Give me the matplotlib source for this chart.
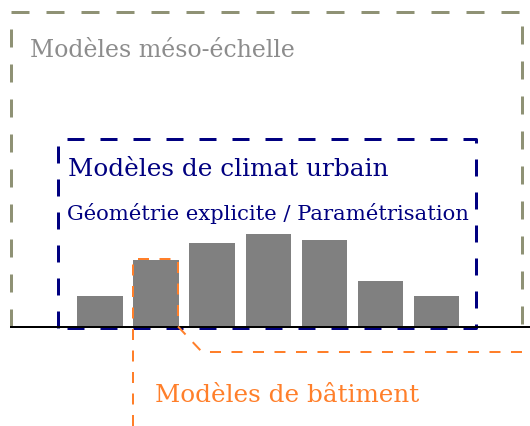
import numpy as np
import matplotlib
matplotlib.use('Agg')
import matplotlib.pyplot as plt

# chart data (bar heights above the ground line, in pixels)
categories = ['1', '2', '3', '4', '5', '6', '7']
heights = [31, 67, 84, 93, 87, 46, 31]

title_meso = 'Modèles méso-échelle'
title_urban = 'Modèles de climat urbain'
subtitle_urban = 'Géométrie explicite / Paramétrisation'
title_building = 'Modèles de bâtiment'

W, H = 530, 427
olive = '#8f9275'
navy = '#000080'
orange = '#ff7f2a'
grey = '#808080'

plt.rcParams['font.family'] = ['DejaVu Serif']
plt.rcParams['lines.scale_dashes'] = False

fig = plt.figure(figsize=(W / 100, H / 100), dpi=100)
ax = fig.add_axes([0, 0, 1, 1])
ax.set_xlim(0, W)
ax.set_ylim(0, H)
ax.axis('off')

px = 0.72  # one pixel in points
ground = H - 327.5

# meso-scale box (open at the bottom)
ax.plot([11, 11, 522, 522], [ground, H - 13, H - 13, ground], color=olive,
        lw=3 * px, dashes=(18 * px, 17 * px), solid_capstyle='butt')

# urban climate box
ax.plot([58, 58, 476, 476, 58], [H - 329, H - 140, H - 140, H - 329, H - 329],
        color=navy, lw=3 * px, dashes=(17 * px, 16 * px), zorder=2)

# bars
x = 100 + 56.1 * np.arange(len(categories))
ax.bar(x, heights, width=45.5, bottom=ground, color=grey, zorder=3)

# ground line
ax.plot([11, W], [ground, ground], color='black', lw=2 * px, zorder=4)

# building model outline
bx = [133, 133, 178, 178, 202, W]
by = [0, H - 260, H - 260, ground, H - 353, H - 353]
ax.plot(bx, by, color=orange, lw=2 * px, dashes=(11 * px, 10.5 * px), zorder=5)

ax.text(30, H - 57, title_meso, color='#8c8c8c', fontsize=17, va='baseline')
ax.text(68, H - 176, title_urban, color=navy, fontsize=17.8, va='baseline')
ax.text(67, H - 220, subtitle_urban, color=navy, fontsize=15.2, va='baseline')
ax.text(155, H - 402, title_building, color=orange, fontsize=17.7, va='baseline')

fig.savefig('out.png', dpi=100)
